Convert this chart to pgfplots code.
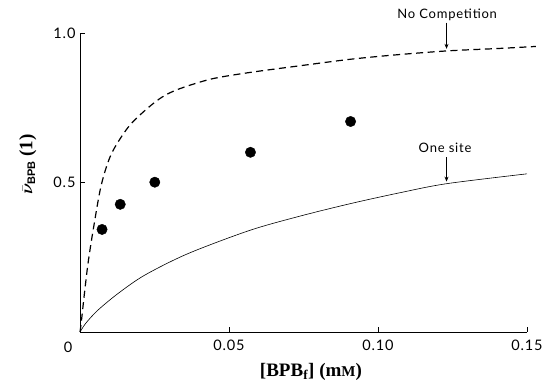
\documentclass[border=0pt]{standalone}
\usepackage{pgfplots}
\pgfplotsset{compat=1.18}
\usetikzlibrary{arrows.meta}
\usepackage{bm}
\usepackage{fontspec}
\setmainfont{Liberation Serif}
\newfontfamily\gill[LetterSpace=6]{Lato}
\newfontfamily\sansb{Liberation Sans}
\newcommand\tickfont{\gill\fontsize{14.5}{14.5}\selectfont}
\newcommand\annfont{\gill\fontsize{13}{13}\selectfont}
\newcommand\labfont{\bfseries\fontsize{19}{19}\selectfont}
\begin{document}
\begin{tikzpicture}
\path[use as bounding box] (-80pt,-53pt) rectangle (467pt,332pt);
\begin{axis}[
  at={(0pt,0pt)}, anchor=origin,
  scale only axis, width=447pt, height=299pt,
  xmin=0, xmax=0.15, ymin=0, ymax=1.0,
  axis x line=bottom, axis y line=left,
  axis line style={-, line width=0.7pt},
  clip=false,
  xtick={0.05,0.1,0.15}, xticklabels={0.05,0.10,0.15},
  ytick={0.5,1.0}, yticklabels={0.5,1.0},
  tick align=inside, major tick length=5pt,
  tick style={line width=0.7pt, black},
  ticklabel style={font=\tickfont},
  xticklabel style={yshift=-4pt},
  yticklabel style={xshift=-1pt},
  xlabel={[BPB$_{\mathbf{f}}$] (m{\fontsize{15}{15}\selectfont M})},
  ylabel={$\bm{\bar{\nu}}_{\mbox{\sansb\bfseries\fontsize{11}{11}\selectfont BPB}}$ (1)},
  label style={font=\labfont},
  xlabel style={at={(axis cs:0.0775,-0.132)}, anchor=center},
  ylabel style={at={(axis cs:-0.0175,0.56)}, anchor=center},
]
\addplot[black, line width=1.2pt, dash pattern=on 7pt off 4.5pt, smooth] coordinates {
(0,0) (0.0004,0.03) (0.0015,0.13) (0.0027,0.23) (0.0044,0.34) (0.0071,0.49)
(0.0105,0.595) (0.0161,0.684) (0.0217,0.74) (0.0273,0.784) (0.033,0.812)
(0.044,0.846) (0.057,0.868) (0.075,0.892) (0.0906,0.912) (0.105,0.926)
(0.123,0.94) (0.14,0.948) (0.153,0.955)};
\addplot[black, line width=0.6pt, smooth] coordinates {
(0,0) (0.002,0.03) (0.006,0.073) (0.0128,0.129) (0.0217,0.19) (0.0362,0.262)
(0.057,0.34) (0.074,0.388) (0.0906,0.429) (0.107,0.465) (0.123,0.496) (0.150,0.529)};
\addplot[only marks, mark=*, mark size=5.2pt, black] coordinates {
(0.0074,0.343) (0.0135,0.427) (0.0251,0.501) (0.0572,0.601) (0.0908,0.704)};
\coordinate (zero) at (axis cs:-0.004,-0.05);
\coordinate (nc) at (axis cs:0.1232,1.06);
\coordinate (nca) at (axis cs:0.123,1.035);
\coordinate (ncb) at (axis cs:0.123,0.947);
\coordinate (os) at (axis cs:0.1225,0.615);
\coordinate (osa) at (axis cs:0.123,0.585);
\coordinate (osb) at (axis cs:0.123,0.503);
\end{axis}
\node[font=\tickfont] at (zero) {0};
\node[font=\annfont] at (nc) {No Competition};
\draw[-{Stealth[length=5pt,width=4pt]}, line width=0.7pt] (nca) -- (ncb);
\node[font=\annfont] at (os) {One site};
\draw[-{Stealth[length=5pt,width=4pt]}, line width=0.7pt] (osa) -- (osb);
\end{tikzpicture}
\end{document}
